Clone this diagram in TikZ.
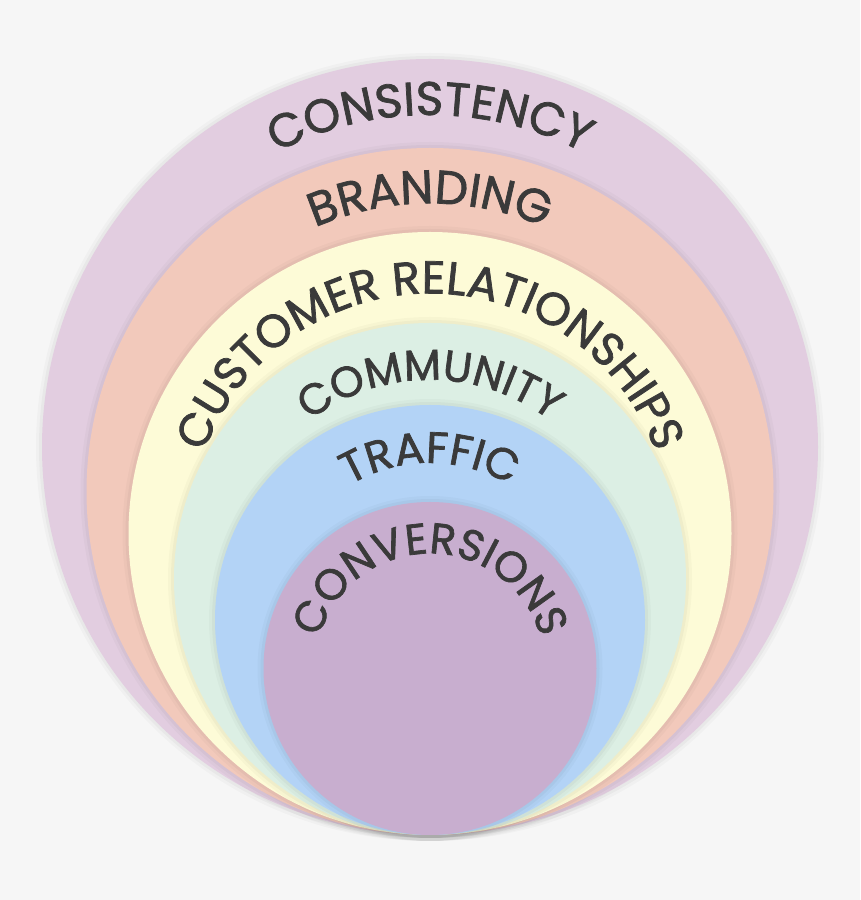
\documentclass[tikz,border=0pt]{standalone}
\usepackage{fontspec}
\setmainfont{Poppins}
\newfontfamily\labelfont{Poppins}[FakeBold=1.6]
\usetikzlibrary{decorations.text}

\definecolor{pagegray}{HTML}{F6F6F6}
\definecolor{labelgray}{HTML}{3A3A3A}
\definecolor{consistencyfill}{HTML}{E2CDE0}
\definecolor{brandingfill}{HTML}{F2C9BB}
\definecolor{relationsfill}{HTML}{FDFBD7}
\definecolor{communityfill}{HTML}{DCEFE4}
\definecolor{trafficfill}{HTML}{B3D3F6}
\definecolor{conversionsfill}{HTML}{C8AECF}

\tikzset{
  layer/.style={fill=#1,
    preaction={draw=black, draw opacity=0.025, line width=12pt},
    preaction={draw=black, draw opacity=0.03, line width=6pt}},
  arclabel/.style 2 args={decorate, decoration={text along path, text align=center,
      text color=labelgray, text={|\labelfont\fontsize{#1}{#1}\selectfont|#2}}}
}

\begin{document}
\begin{tikzpicture}[x=1pt,y=1pt]
            \fill[pagegray] (0,0) rectangle (860,900);
            \useasboundingbox (0,0) rectangle (860,900);

            % centres, all circles touch at the bottom
            \coordinate (consistency) at (430,453);
            \coordinate (branding) at (430,408.5);
            \coordinate (relations) at (430,366.5);
            \coordinate (community) at (430,321);
            \coordinate (traffic) at (430,280);
            \coordinate (conversions) at (430,231.5);

            \path[layer=consistencyfill] (consistency) circle (388);
            \path[layer=brandingfill] (branding) circle (343.5);
            \path[layer=relationsfill] (relations) circle (301.5);
            \path[layer=communityfill] (community) circle (256);
            \path[layer=trafficfill] (traffic) circle (215);
            \path[layer=conversionsfill] (conversions) circle (166.5);

            \path[arclabel={47}{CONSISTENCY}] (consistency) ++(170:332) arc[start angle=170, end angle=10, radius=332];
            \path[arclabel={47}{BRANDING}] (branding) ++(170:288) arc[start angle=170, end angle=10, radius=288];
            \path[arclabel={46}{CUSTOMER RELATIONSHIPS}] (relations) ++(200:240) arc[start angle=200, end angle=-20, radius=240];
            \path[arclabel={43}{COMMUNITY}] (community) ++(180:199) arc[start angle=180, end angle=0, radius=199];
            \path[arclabel={44}{TRAFFIC}] (traffic) ++(170:157) arc[start angle=170, end angle=10, radius=157];
            \path[arclabel={43}{CONVERSIONS}] (conversions) ++(200:115) arc[start angle=200, end angle=-20, radius=115];

\end{tikzpicture}
\end{document}
